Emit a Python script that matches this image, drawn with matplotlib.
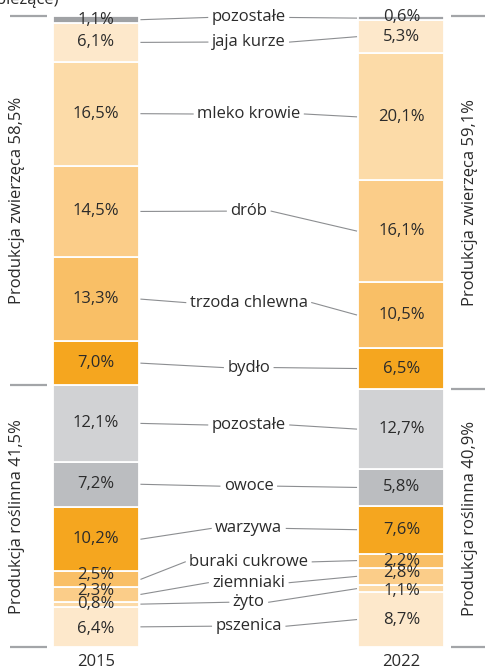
import matplotlib.pyplot as plt
import numpy as np

plt.rcParams['font.family'] = ['Open Sans', 'DejaVu Sans']

years = ['2015', '2022']
# stacked from the bottom: plant production first, then animal production
categories = ['pszenica', 'żyto', 'ziemniaki', 'buraki cukrowe', 'warzywa', 'owoce', 'pozostałe',
              'bydło', 'trzoda chlewna', 'drób', 'mleko krowie', 'jaja kurze', 'pozostałe']
share_2015 = [6.4, 0.8, 2.3, 2.5, 10.2, 7.2, 12.1, 7.0, 13.3, 14.5, 16.5, 6.1, 1.1]
share_2022 = [8.7, 1.1, 2.8, 2.2, 7.6, 5.8, 12.7, 6.5, 10.5, 16.1, 20.1, 5.3, 0.6]
n_plant = 7
group_names = ['Produkcja roślinna', 'Produkcja zwierzęca']

colors = ['#fde8cb', '#fcdaa7', '#fbcd89', '#f9bf66', '#f5a61f', '#bbbdc0', '#d1d2d4',
          '#f5a61f', '#f9bf66', '#fbcd89', '#fcdba8', '#fde8cb', '#a0a2a5']

# vertical placement of the middle category names (percent scale)
label_y = [3.3, 7.1, 10.2, 13.5, 18.8, 25.5, 35.2, 44.3, 54.6, 69.1, 84.5, 95.9, 99.8]
# small shifts of value labels inside thin segments
value_nudge = {(0, 2): 0.6, (0, 3): 0.6, (0, 0): -0.3, (1, 2): 0.5, (1, 1): -0.4, (1, 12): 0.2}

txt = '#2b2b2b'
line_c = '#8c8e91'
sep_c = '#a3a5a8'
fs = 12

fig = plt.figure(figsize=(4.86, 6.71), dpi=100)
ax = fig.add_axes([0, 0, 1, 1])
ax.set_xlim(-0.3142, 1.2766)
ax.set_ylim(-3.80, 102.57)
ax.axis('off')

px = 1 / 305.5   # one pixel in x units
width = 86 * px
xpos = [0, 1]
series = [share_2015, share_2022]


def pct(v):
    return f'{v:.1f}'.replace('.', ',') + '%'


centers = []
for i, vals in enumerate(series):
    vals = np.array(vals)
    bottoms = np.concatenate([[0], np.cumsum(vals)[:-1]])
    ax.bar(np.full(len(vals), xpos[i]), vals, width=width, bottom=bottoms,
           color=colors, edgecolor='white', linewidth=1.3)
    mids = bottoms + vals / 2
    centers.append(mids)
    for j, v in enumerate(vals):
        ax.text(xpos[i], mids[j] + value_nudge.get((i, j), 0), pct(v),
                ha='center', va='center', fontsize=fs, color=txt)
    ax.text(xpos[i], -2.4, years[i], ha='center', va='center', fontsize=fs, color=txt)

    # group separators and group titles on the outer side
    plant = vals[:n_plant].sum()
    if i == 0:
        sx, tx = (-0.2815, -0.1604), -0.258
    else:
        sx, tx = (1.162, 1.272), 1.224
    for yy in (0, plant, 100):
        ax.plot(sx, [yy, yy], color=sep_c, lw=1.6, solid_capstyle='butt')
    ax.text(tx, plant / 2, f'{group_names[0]} {pct(plant)}', rotation=90,
            ha='center', va='center', fontsize=fs, color=txt)
    ax.text(tx, (plant + 100) / 2, f'{group_names[1]} {pct(100 - plant)}', rotation=90,
            ha='center', va='center', fontsize=fs, color=txt)

labels = []
for j, name in enumerate(categories):
    labels.append(ax.text(0.5, label_y[j], name, ha='center', va='center',
                          fontsize=fs, color=txt))

ax.text(58 * px - 0.3142, 101.95, '(ceny bieżące)', ha='right', va='baseline',
        fontsize=fs, color=txt)

fig.canvas.draw()
renderer = fig.canvas.get_renderer()
inv = ax.transData.inverted()
for j, t in enumerate(labels):
    bb = t.get_window_extent(renderer).transformed(inv)
    ax.plot([xpos[0] + width / 2 + 2 * px, bb.x0 - 4 * px], [centers[0][j], label_y[j]],
            color=line_c, lw=0.8)
    ax.plot([bb.x1 + 4 * px, xpos[1] - width / 2 - 2 * px], [label_y[j], centers[1][j]],
            color=line_c, lw=0.8)

fig.savefig('out.png', dpi=100)
